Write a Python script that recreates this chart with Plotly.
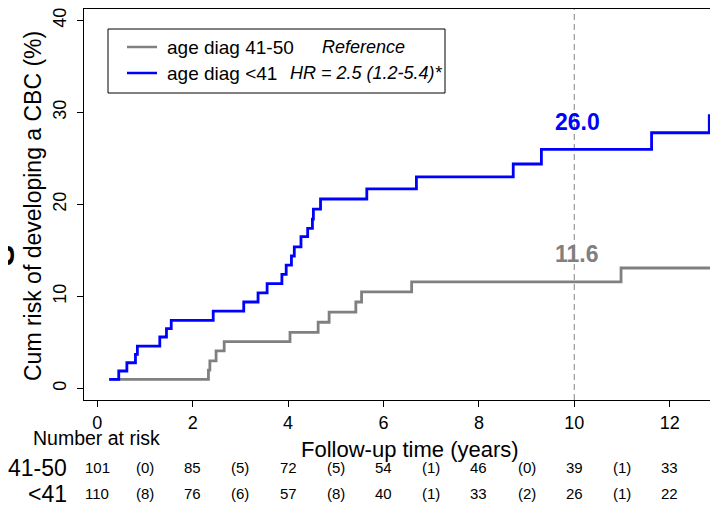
import plotly.graph_objects as go

# ---- data ----
x_ticks = [0, 2, 4, 6, 8, 10, 12]
y_ticks = [0, 10, 20, 30, 40]

# cumulative risk step curves (time in years, cum risk in %)
ref_label = "age diag 41-50"
ref_note = "Reference"
ref_t = [0.25, 2.33, 2.36, 2.49, 2.66, 4.04, 4.63, 4.86, 5.42, 5.54, 6.59, 10.98, 12.98]
ref_y = [1.0, 2.0, 3.0, 4.1, 5.1, 6.1, 7.2, 8.3, 9.4, 10.5, 11.6, 13.1, 14.8]

young_label = "age diag <41"
young_note = "HR = 2.5 (1.2-5.4)*"
young_t = [0.25, 0.45, 0.62, 0.80, 0.84, 1.31, 1.45, 1.55, 2.43, 3.07, 3.37, 3.56,
           3.87, 3.96, 4.07, 4.13, 4.27, 4.41, 4.51, 4.53, 4.68, 5.65, 6.69, 8.72,
           9.31, 11.62, 12.83]
young_y = [1.0, 1.9, 2.8, 3.7, 4.6, 5.6, 6.5, 7.4, 8.4, 9.4, 10.4, 11.4,
           12.4, 13.4, 14.4, 15.4, 16.5, 17.4, 18.4, 19.5, 20.6, 21.7, 23.0, 24.4,
           26.0, 27.8, 29.8]

landmark_year = 10
landmark_values = [11.6, 26.0]  # [41-50, <41]

# number at risk table
risk_years = [0, 2, 4, 6, 8, 10, 12]
risk_mid_years = [1, 3, 5, 7, 9, 11]
risk_groups = ["41-50", "<41"]
risk_counts = [[101, 85, 72, 54, 46, 39, 33],
               [110, 76, 57, 40, 33, 26, 22]]
risk_events = [[0, 5, 5, 1, 0, 1],
               [8, 6, 8, 1, 2, 1]]

# ---- styling ----
FONT = "Liberation Sans"
GRAY = "#808080"
BLUE = "#0000FF"
# page has an 8px body margin: figure is drawn from screen (8, 8)
OFF = 8
W, H = 718 - OFF, 500
PL, PR, PT, PB = 84, 718, 9, 400        # plot area in screen pixels
L, R, T = PL - OFF, 0, PT - OFF
B = H - (PB - OFF)
PW, PH = PR - PL, PB - PT


def px_x(p):
    return (p - PL) / PW


def px_y(p):
    return (PB - p) / PH


def text_ann(x, y, text, size, xanchor="center", color="black", **kw):
    d = dict(x=x, y=y, xref="paper", yref="paper", text=text, showarrow=False,
             xanchor=xanchor, yanchor="middle",
             font=dict(family=FONT, size=size, color=color))
    d.update(kw)
    return d


fig = go.Figure()
fig.add_trace(go.Scatter(
    x=ref_t, y=ref_y, mode="lines", showlegend=False,
    line=dict(color=GRAY, width=2.8, shape="hv"), name=ref_label))
fig.add_trace(go.Scatter(
    x=young_t, y=young_y, mode="lines", showlegend=False,
    line=dict(color=BLUE, width=2.8, shape="hv"), name=young_label))

shapes = [dict(type="line", xref="x", yref="paper", x0=landmark_year, x1=landmark_year,
               y0=0, y1=1, line=dict(color="#999999", width=1.2, dash="6px,4px"), layer="below")]

ann = []
for val, col in zip(landmark_values, [GRAY, BLUE]):
    ann.append(dict(x=landmark_year, y=val + 3.0, xref="x", yref="y", text=f"<b>{val:.1f}</b>",
                    showarrow=False, xshift=3, xanchor="center", yanchor="middle",
                    font=dict(family=FONT, size=23, color=col)))

# legend box (drawn manually to match the reference layout)
shapes.append(dict(type="rect", xref="paper", yref="paper",
                   x0=px_x(108), x1=px_x(445), y0=px_y(93), y1=px_y(29),
                   line=dict(color="black", width=1), fillcolor="white", layer="above"))
leg_rows = [(ref_label, ref_note, GRAY, 47, 320), (young_label, young_note, BLUE, 73, 288)]
for lab, note, col, py, nx in leg_rows:
    shapes.append(dict(type="line", xref="paper", yref="paper", x0=px_x(127), x1=px_x(157),
                       y0=px_y(py), y1=px_y(py), line=dict(color=col, width=2.5), layer="above"))
    ann.append(text_ann(px_x(165), px_y(py), lab, 19, xanchor="left"))
    ann.append(text_ann(px_x(nx), px_y(py), f"<i>{note}</i>", 18, xanchor="left"))

ann.append(text_ann(px_x(409.5), px_y(449), "Follow-up time (years)", 22))
ann.append(text_ann(px_x(33), px_y(206), "Cum risk of developing a CBC (%)", 23, textangle=-90))
ann.append(text_ann(px_x(31), px_y(438), "Number at risk", 19.5, xanchor="left"))
row_py = [468, 494]
for g, (name, counts, events) in enumerate(zip(risk_groups, risk_counts, risk_events)):
    ann.append(text_ann(px_x(69), px_y(row_py[g]), name, 23, xanchor="right"))
    for yr, c in zip(risk_years, counts):
        ann.append(dict(x=yr, y=px_y(row_py[g]), xref="x", yref="paper", text=str(c),
                        showarrow=False, xanchor="center", yanchor="middle",
                        font=dict(family=FONT, size=15, color="black")))
    for yr, e in zip(risk_mid_years, events):
        ann.append(dict(x=yr, y=px_y(row_py[g]), xref="x", yref="paper", text=f"({e})",
                        showarrow=False, xanchor="center", yanchor="middle",
                        font=dict(family=FONT, size=15, color="black")))

# stray glyph from neighbouring panel at the left edge
ann.append(text_ann(px_x(3), px_y(256), "<b>S</b>", 32, textangle=-90))

Y0, YS = 388.5, 9.2      # screen y of 0 %, px per %
X0, XS = 97.3, 47.7      # screen x of year 0, px per year

fig.update_layout(
    width=W, height=H,
    margin=dict(l=L, r=R, t=T, b=B, pad=0),
    paper_bgcolor="white", plot_bgcolor="white",
    font=dict(family=FONT, color="black"),
    annotations=ann, shapes=shapes,
    showlegend=False,
    xaxis=dict(range=[(PL - X0) / XS, (PR - X0) / XS], tickmode="array", tickvals=x_ticks,
               ticks="outside", ticklen=6, tickcolor="black", showline=True,
               linecolor="black", linewidth=1, mirror=True, showgrid=False, zeroline=False,
               ticklabeloverflow="allow",
               tickfont=dict(family=FONT, size=18, color="black")),
    yaxis=dict(range=[(Y0 - PB) / YS, (Y0 - PT) / YS], tickmode="array", tickvals=y_ticks,
               ticks="outside", ticklen=6, tickcolor="black", showline=True,
               linecolor="black", linewidth=1, showgrid=False, zeroline=False,
               tickangle=-90, ticklabelstandoff=4, ticklabeloverflow="allow",
               tickfont=dict(family=FONT, size=18, color="black")),
)

fig.write_html("out.html")
